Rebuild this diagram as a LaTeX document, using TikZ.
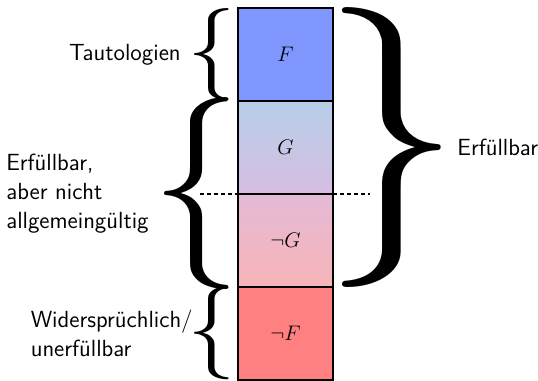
\documentclass[tikz,border=0pt]{standalone}
\usepackage{amsmath,amssymb}
\usepackage{graphicx}
\usetikzlibrary{positioning,calc}
\definecolor{tautblue}{RGB}{128,150,255}
\definecolor{widerred}{RGB}{255,128,128}
\definecolor{gtop}{RGB}{183,206,232}
\definecolor{gbot}{RGB}{214,190,226}
\definecolor{ngtop}{RGB}{228,186,214}
\definecolor{ngbot}{RGB}{248,180,184}
\tikzset{
  feld/.style={draw,thick,minimum width=1.9cm,minimum height=1.86cm,
    inner sep=0pt,outer sep=0pt,font=\fontsize{12.5}{16.5}\selectfont},
  klammer/.style={inner sep=0pt,outer sep=0pt},
  beschr/.style={inner sep=0pt,align=left,
    font=\sffamily\fontsize{13.3}{16.5}\selectfont}
}
% Klammer ohne Seitenraender
\newcommand{\klauf}{$\kern-0.07em\{\kern-0.07em$}
\newcommand{\klzu}{$\kern-0.07em\}\kern-0.07em$}

\begin{document}
\begin{tikzpicture}[x=0.02cm,y=-0.02cm]
\useasboundingbox (0,0) rectangle (538,380);
% die vier Felder
\node [feld,fill=tautblue] (taut) at (285.5,54.5) {$F$};
\node [feld,below=0pt of taut,top color=gtop,bottom color=gbot] (erfG) {$G$};
\node [feld,below=0pt of erfG,top color=ngtop,bottom color=ngbot] (erfnG) {$\neg G$};
\node [feld,below=0pt of erfnG,fill=widerred] (wid) {$\neg F$};
% gestrichelte Trennlinie
\coordinate (strichl) at ($(erfG.south west)+(-38,0)$);
\coordinate (strichr) at ($(erfG.south east)+(37,0)$);
\draw [semithick,dash pattern=on 2.2pt off 1.8pt] (strichl) -- (erfG.south west);
\draw [semithick,dash pattern=on 2.2pt off 1.8pt] (erfG.south east) -- (strichr);
% Klammern
\node [klammer,anchor=east] (kltaut) at ($(taut.west)+(-9,0)$)
  {\resizebox*{0.7cm}{1.84cm}{\klauf}};
\node [klammer,anchor=east] (klerf) at ($(erfG.south west)+(-9,0)$)
  {\resizebox*{1.3cm}{3.84cm}{\klauf}};
\node [klammer,anchor=east] (klwid) at ($(wid.west)+(-9,0)$)
  {\resizebox*{0.7cm}{1.86cm}{\klauf}};
\node [klammer,anchor=west] (klrechts) at ($(taut.north east)!0.5!(erfnG.south east)+(9,0)$)
  {\resizebox*{2cm}{5.6cm}{\klzu}};
% Beschriftungen
\node [beschr,left=0.26cm of kltaut] (ltaut) {Tautologien};
\node [beschr,left=0.3cm of klerf] (lerf) {Erfüllbar,\\aber nicht\\allgemeingültig};
\node [beschr,left=0.02cm of klwid] (lwid) {Widersprüchlich/\\unerfüllbar};
\node [beschr,right=0.3cm of klrechts] (lrechts) {Erfüllbar};
\end{tikzpicture}
\end{document}
